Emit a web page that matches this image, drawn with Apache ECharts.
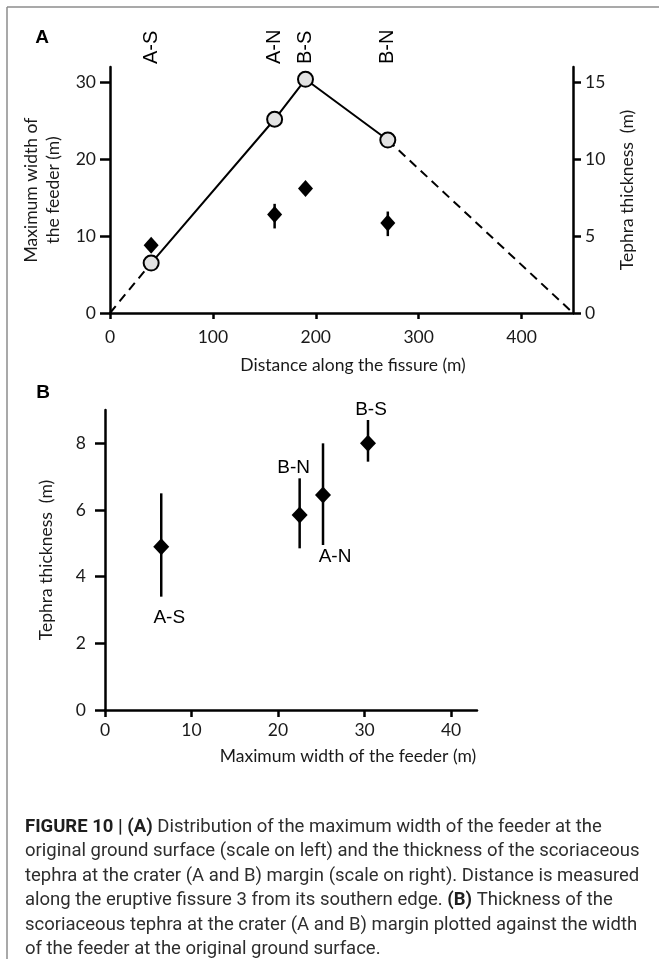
<!DOCTYPE html>
<html>
<head>
<meta charset="utf-8">
<script src="https://cdn.jsdelivr.net/npm/echarts@6/dist/echarts.min.js"></script>
<style>
  html, body { margin: 0; padding: 0; background: #fff; }
  #chart { width: 659px; height: 959px; }
</style>
</head>
<body>
<div id="chart"></div>
<script>
// crater margins sampled along fissure 3
var sites = ['A-S', 'A-N', 'B-S', 'B-N'];
var distance = [40, 160, 190, 270];            // m from southern edge
var feederWidth = [6.5, 25.2, 30.4, 22.5];     // m (left scale in A, x in B)
var fissureEnds = [0, 450];                    // feeder width is 0 here

// tephra thickness as plotted in panel A (right scale)
var tephraA = [4.4, 6.4, 8.1, 5.85];
var tephraALow = [null, 5.5, null, 5.0];
var tephraAHigh = [null, 7.1, null, 6.6];

// tephra thickness as plotted in panel B
var tephraB = [4.9, 6.45, 8.0, 5.85];
var tephraBLow = [3.4, 4.95, 7.45, 4.85];
var tephraBHigh = [6.5, 8.0, 8.7, 6.95];

// tick labels
var ticksDist = [0, 100, 200, 300, 400];
var ticksWidthA = [0, 10, 20, 30];
var ticksTephraA = [0, 5, 10, 15];
var ticksWidthB = [0, 10, 20, 30, 40];
var ticksTephraB = [0, 2, 4, 6, 8];

var axisFont = 'Lato';
var labelFont = '"Liberation Sans", Arial, sans-serif';

function axis(opts) {
  return {
    type: 'value',
    gridIndex: opts.grid,
    position: opts.position,
    min: opts.min,
    max: opts.max,
    name: opts.name,
    nameLocation: 'middle',
    nameGap: opts.nameGap,
    nameTextStyle: {
      color: '#1a1a1a', fontFamily: axisFont, fontSize: 17.5, lineHeight: 22,
      padding: opts.namePad || 0
    },
    splitLine: { show: false },
    axisLine: { show: true, onZero: false, lineStyle: { color: '#000', width: 2.5 } },
    axisTick: {
      show: true, length: opts.tickLen, customValues: opts.ticks,
      lineStyle: { color: '#000', width: 2.5 }
    },
    axisLabel: {
      customValues: opts.ticks, margin: opts.margin,
      color: '#1a1a1a', fontFamily: axisFont, fontSize: 17.5
    }
  };
}

function pairs(xs, ys) {
  return xs.map(function (x, i) { return [x, ys[i]]; });
}

function barData(xs, lo, hi) {
  var out = [];
  xs.forEach(function (x, i) {
    if (lo[i] != null) out.push([x, lo[i], hi[i]]);
  });
  return out;
}

function errorBar(params, api) {
  var a = api.coord([api.value(0), api.value(1)]);
  var b = api.coord([api.value(0), api.value(2)]);
  return {
    type: 'line',
    shape: { x1: a[0], y1: a[1], x2: b[0], y2: b[1] },
    style: { stroke: '#000', lineWidth: 2.5 }
  };
}

// where the site names sit around the diamonds in B
var labelOffsetB = { 'A-S': [8, 71], 'A-N': [12, 62], 'B-S': [3, -34], 'B-N': [-6, -47] };

var myChart = echarts.init(document.getElementById('chart'));

var option = {
  animation: false,
  backgroundColor: '#fff',
  grid: [
    { left: 110, top: 67, width: 463, height: 246 },
    { left: 105, top: 410, width: 372, height: 300 }
  ],
  xAxis: [
    axis({ grid: 0, position: 'bottom', min: 0, max: 450, ticks: ticksDist, tickLen: 6, margin: 15,
           name: 'Distance along the fissure (m)', nameGap: 41, namePad: [0, 0, 0, 23] }),
    {
      type: 'value', gridIndex: 0, position: 'top', min: 0, max: 450,
      axisLine: { show: false }, axisTick: { show: false }, splitLine: { show: false },
      axisLabel: {
        customValues: distance, rotate: 90, margin: 3,
        color: '#000', fontFamily: labelFont, fontSize: 20,
        formatter: function (v) { return sites[distance.indexOf(v)]; }
      }
    },
    axis({ grid: 1, position: 'bottom', min: 0, max: 43, ticks: ticksWidthB, tickLen: 7, margin: 11,
           name: 'Maximum width of the feeder (m)', nameGap: 35, namePad: [0, 0, 0, 114] })
  ],
  yAxis: [
    axis({ grid: 0, position: 'left', min: 0, max: 32, ticks: ticksWidthA, tickLen: 10, margin: 14,
           name: 'Maximum width of\nthe feeder (m)', nameGap: 32 }),
    axis({ grid: 0, position: 'right', min: 0, max: 16, ticks: ticksTephraA, tickLen: 8, margin: 12,
           name: 'Tephra thickness  (m)', nameGap: 42 }),
    axis({ grid: 1, position: 'left', min: 0, max: 9, ticks: ticksTephraB, tickLen: 10, margin: 19,
           name: 'Tephra thickness  (m)', nameGap: 48 })
  ],
  series: [
    {
      type: 'line', xAxisIndex: 0, yAxisIndex: 0, symbol: 'none', z: 2,
      lineStyle: { color: '#000', width: 2, type: [9, 6] },
      data: [[fissureEnds[0], 0], [distance[0], feederWidth[0]]]
    },
    {
      type: 'line', xAxisIndex: 0, yAxisIndex: 0, symbol: 'none', z: 2,
      lineStyle: { color: '#000', width: 2, type: [9, 6] },
      data: [[distance[3], feederWidth[3]], [fissureEnds[1], 0]]
    },
    {
      type: 'custom', xAxisIndex: 0, yAxisIndex: 1, z: 3,
      renderItem: errorBar, encode: { x: 0, y: [1, 2] },
      data: barData(distance, tephraALow, tephraAHigh)
    },
    {
      type: 'scatter', xAxisIndex: 0, yAxisIndex: 1, z: 4,
      symbol: 'diamond', symbolSize: [15, 17],
      itemStyle: { color: '#000', opacity: 1 },
      data: pairs(distance, tephraA)
    },
    {
      type: 'line', xAxisIndex: 0, yAxisIndex: 0, z: 5,
      symbol: 'circle', symbolSize: 15, showAllSymbol: true,
      lineStyle: { color: '#000', width: 2 },
      itemStyle: { color: '#e2e2e2', borderColor: '#000', borderWidth: 2, opacity: 1 },
      data: pairs(distance, feederWidth)
    },
    {
      type: 'custom', xAxisIndex: 2, yAxisIndex: 2, z: 3,
      renderItem: errorBar, encode: { x: 0, y: [1, 2] },
      data: barData(feederWidth, tephraBLow, tephraBHigh)
    },
    {
      type: 'scatter', xAxisIndex: 2, yAxisIndex: 2, z: 4,
      symbol: 'diamond', symbolSize: [16, 17],
      itemStyle: { color: '#000', opacity: 1 },
      label: {
        show: true, position: 'inside', color: '#000',
        fontFamily: labelFont, fontSize: 19,
        formatter: function (p) { return p.name; }
      },
      data: sites.map(function (s, i) {
        return { name: s, value: [feederWidth[i], tephraB[i]], label: { offset: labelOffsetB[s] } };
      })
    }
  ],
  graphic: [
    { type: 'line', silent: true, shape: { x1: 7, y1: 7, x2: 659, y2: 7 },
      style: { stroke: '#8c8c8c', lineWidth: 1.5 } },
    { type: 'line', silent: true, shape: { x1: 7, y1: 7, x2: 7, y2: 959 },
      style: { stroke: '#8c8c8c', lineWidth: 1.5 } },
    { type: 'text', x: 42, y: 38, style: { text: 'A', fill: '#000', font: 'bold 19px "Liberation Sans"',
      align: 'center', verticalAlign: 'middle' } },
    { type: 'text', x: 43, y: 393, style: { text: 'B', fill: '#000', font: 'bold 19px "Liberation Sans"',
      align: 'center', verticalAlign: 'middle' } },
    {
      type: 'text', x: 25, y: 815,
      style: {
        fill: '#2e2e2e', font: '18.5px Roboto', lineHeight: 24.5, verticalAlign: 'top',
        text: [
          '{b|FIGURE 10 | (A)} Distribution of the maximum width of the feeder at the',
          'original ground surface (scale on left) and the thickness of the scoriaceous',
          'tephra at the crater (A and B) margin (scale on right). Distance is measured',
          'along the eruptive fissure 3 from its southern edge. {b|(B)} Thickness of the',
          'scoriaceous tephra at the crater (A and B) margin plotted against the width',
          'of the feeder at the original ground surface.'
        ].join('\n'),
        rich: {
          b: { fontWeight: 'bold', fill: '#1e1e1e', fontFamily: 'Roboto', fontSize: 18.5, lineHeight: 24.5 }
        }
      }
    }
  ]
};

myChart.setOption(option);
</script>
</body>
</html>
